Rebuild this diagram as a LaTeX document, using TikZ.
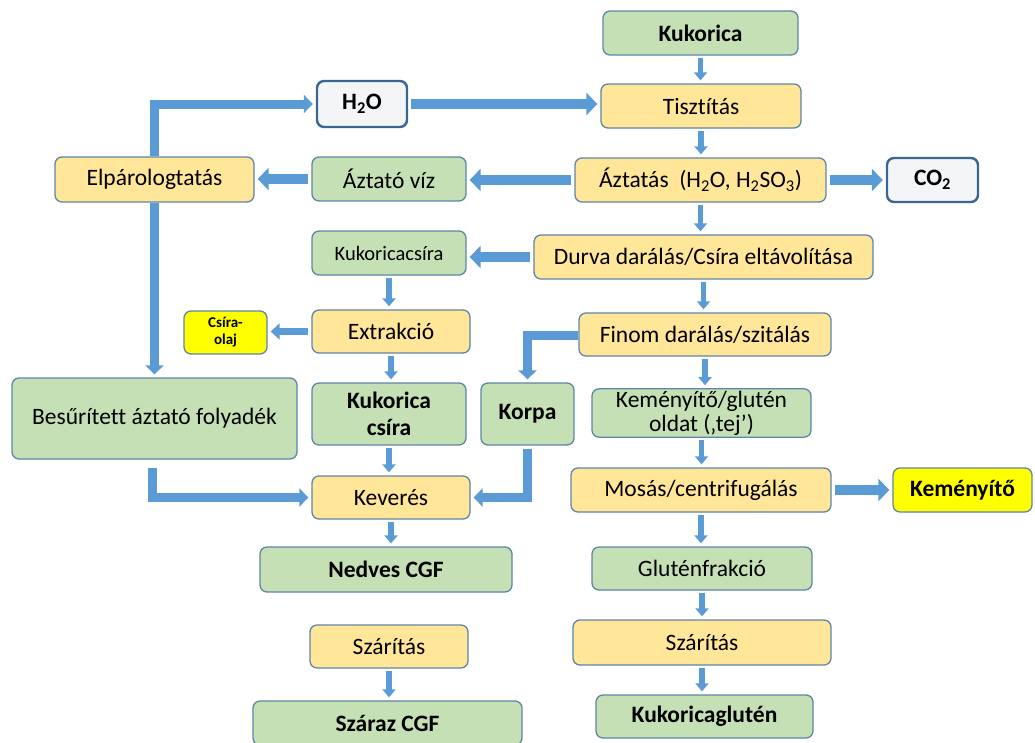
\documentclass[tikz,border=0pt]{standalone}
\usepackage{fontspec}
\setmainfont[Ligatures=NoCommon]{Carlito}
\usetikzlibrary{arrows.meta}
\definecolor{yfill}{HTML}{FFE699}
\definecolor{gfill}{HTML}{C5E0B4}
\definecolor{bline}{HTML}{5F86A8}
\definecolor{wline}{HTML}{3A6690}
\definecolor{wfill}{HTML}{F4F5F7}
\definecolor{arrc}{HTML}{5B9BD5}
\definecolor{brightY}{HTML}{FFFF00}
\tikzset{
  box/.style={rectangle, rounded corners=7pt, draw=bline, line width=1.3pt, align=center, inner sep=2pt,
    font=\fontsize{23.5}{25}\selectfont},
  ybox/.style={box, fill=yfill},
  gbox/.style={box, fill=gfill},
  bbox/.style={font=\fontsize{23.5}{25}\selectfont\bfseries},
  wbox/.style={box, fill=wfill, draw=wline, line width=2.4pt, font=\fontsize{23.5}{25}\selectfont\bfseries},
  kbox/.style={box, fill=brightY},
  arrS/.style={draw=arrc, line width=5.5pt, -{Triangle[width=13pt,length=8pt]}, shorten <=2pt, shorten >=3pt},
  arrM/.style={draw=arrc, line width=7pt, -{Triangle[width=16pt,length=9pt]}, shorten <=3pt, shorten >=3pt},
  arrL/.style={draw=arrc, line width=10pt, -{Triangle[width=22pt,length=11pt]}, shorten <=3pt, shorten >=3pt},
  arrE/.style={draw=arrc, line width=9pt, -{Triangle[width=18pt,length=9pt]}, shorten >=3pt},
}
\begin{document}
\begin{tikzpicture}[x=1pt,y=-1pt]
\useasboundingbox (0,0) rectangle (1035,742);
\node[gbox, bbox, minimum width=195pt, minimum height=44pt] (kuk) at (700.5,33) {Kukorica};
\node[ybox, minimum width=200pt, minimum height=44pt] (tisz) at (701,106) {Tisztítás};
\node[ybox, minimum width=251pt, minimum height=44pt] (azt) at (700.5,180) {Áztatás~ (H\textsubscript{2}O, H\textsubscript{2}SO\textsubscript{3})};
\node[wbox, minimum width=91pt, minimum height=44pt] (co2) at (932.5,180) {CO\textsubscript{2}};
\node[wbox, minimum width=90pt, minimum height=46pt] (h2o) at (362,104) {H\textsubscript{2}O};
\node[ybox, minimum width=199pt, minimum height=45pt] (elp) at (154.5,179.5) {Elpárologtatás};
\node[gbox, minimum width=154pt, minimum height=44pt] (azv) at (389,179) {Áztató víz};
\node[ybox, minimum width=339pt, minimum height=44pt] (durva) at (703.5,257) {Durva darálás/Csíra eltávolítása};
\node[gbox, minimum width=154pt, minimum height=44pt, font=\fontsize{20.5}{23}\selectfont] (kcs) at (389,253) {Kukoricacsíra};
\node[ybox, minimum width=252pt, minimum height=43pt] (finom) at (705,334.5) {Finom darálás/szitálás};
\node[ybox, minimum width=158pt, minimum height=43pt] (extr) at (391,331.5) {Extrakció};
\node[kbox, minimum width=83pt, minimum height=43pt, font=\fontsize{15}{17}\selectfont\bfseries] (olaj) at (225.5,332.5) {Csíra-\\olaj};
\node[gbox, minimum width=285pt, minimum height=81pt] (bes) at (154.5,418.5) {Besűrített áztató folyadék};
\node[gbox, minimum width=154pt, minimum height=62pt, font=\fontsize{23.5}{27}\selectfont\bfseries] (kcsira) at (389,414) {Kukorica\\csíra};
\node[gbox, bbox, minimum width=93pt, minimum height=62pt] (korpa) at (527.5,414) {Korpa};
\node[gbox, minimum width=219pt, minimum height=48pt, font=\fontsize{23.5}{24}\selectfont] (tej) at (701.5,413) {Keményítő/glutén\\oldat (‚tej’)};
\node[ybox, minimum width=158pt, minimum height=43pt] (kev) at (391,497.5) {Keverés};
\node[ybox, minimum width=260pt, minimum height=44pt] (mosas) at (701,490) {Mosás/centrifugálás};
\node[kbox, bbox, minimum width=139pt, minimum height=44pt] (kem) at (962.5,490) {Keményítő};
\node[gbox, bbox, minimum width=252pt, minimum height=45pt] (nedv) at (386,569.5) {Nedves CGF};
\node[gbox, minimum width=220pt, minimum height=43pt] (glut) at (702,568.5) {Gluténfrakció};
\node[ybox, minimum width=158pt, minimum height=43pt] (sz1) at (389,646.5) {Szárítás};
\node[gbox, bbox, minimum width=269pt, minimum height=44pt] (szcgf) at (387.5,723) {Száraz CGF};
\node[ybox, minimum width=258pt, minimum height=45pt] (sz2) at (702,642.5) {Szárítás};
\node[gbox, bbox, minimum width=217pt, minimum height=43pt] (kglut) at (704.5,716.5) {Kukoricaglutén};
% small vertical arrows
\draw[arrS] (kuk.south) -- (kuk.south |- tisz.north);
\draw[arrS] (tisz.south) -- (tisz.south |- azt.north);
\draw[arrS] (azt.south) -- (azt.south |- durva.north);
\draw[arrS] (durva.south) -- (durva.south |- finom.north);
\draw[arrS] (finom.south) -- (finom.south |- tej.north);
\draw[arrS] (tej.south) -- (tej.south |- mosas.north);
\draw[arrS] (mosas.south) -- (mosas.south |- glut.north);
\draw[arrS] (glut.south) -- (glut.south |- sz2.north);
\draw[arrS] (sz2.south) -- (sz2.south |- kglut.north);
\draw[arrS] (kcs.south) -- (kcs.south |- extr.north);
\draw[arrS] (extr.south) -- (extr.south |- kcsira.north);
\draw[arrS] (kcsira.south) -- (kcsira.south |- kev.north);
\draw[arrS] (kev.south) -- (kev.south |- nedv.north);
\draw[arrS] (sz1.south) -- (sz1.south |- szcgf.north);
% horizontal arrows
\draw[arrL] (h2o.east) -- (h2o.east -| tisz.west);
\draw[arrL] (azt.west) -- (azt.west -| azv.east);
\draw[arrL] (azv.west) -- (azv.west -| elp.east);
\draw[arrL] (azt.east) -- (azt.east -| co2.west);
\draw[arrL] (durva.west) -- (durva.west -| kcs.east);
\draw[arrM] (extr.west) -- (extr.west -| olaj.east);
\draw[arrL] (mosas.east) -- (mosas.east -| kem.west);
% elbow arrows
\draw[arrE] (elp.north) |- (h2o.west);
\draw[arrE] (elp.south) -- (elp.south |- bes.north);
\draw[arrE] ([xshift=-2pt,yshift=-8pt]bes.south) |- (kev.west);
\draw[arrE] ([yshift=-1pt]finom.west) -| (korpa.north);
\draw[arrE] ([yshift=-3pt]korpa.south) |- (kev.east);
\end{tikzpicture}
\end{document}
